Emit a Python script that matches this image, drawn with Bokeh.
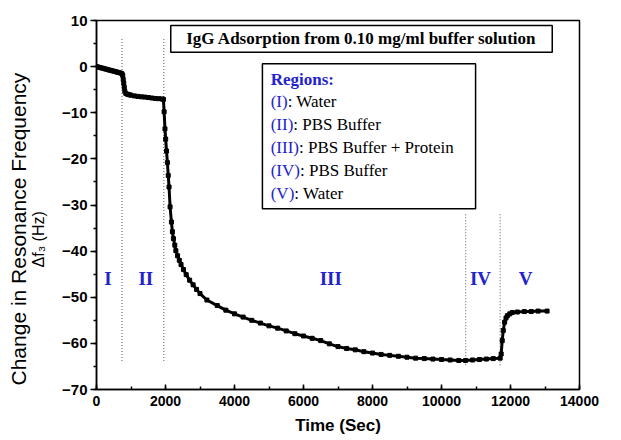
import math
from bokeh.plotting import figure
from bokeh.models import Range1d, SingleIntervalTicker, Title, ColumnDataSource
from bokeh.core.properties import value
from bokeh.embed import file_html
from bokeh.resources import INLINE

# ---- data ----
time_s = [0, 50, 100, 150, 200, 250, 300, 350, 400, 450, 500, 550, 600, 650, 700, 740,
          760, 775, 790, 805, 820, 850, 900, 950, 1000, 1100, 1200, 1300, 1400, 1500,
          1600, 1700, 1800, 1900, 1940,
          1960, 1985, 2005, 2030, 2055, 2080, 2103, 2133, 2172, 2200, 2230, 2270, 2300,
          2350, 2400, 2450, 2520, 2600, 2700, 2800, 2900, 3000, 3200, 3500, 3750, 4000,
          4250, 4500, 4750, 5000, 5250, 5500, 5750, 6000, 6250, 6500, 6750, 7000, 7250,
          7500, 7750, 8000, 8250, 8500, 8750, 9000, 9250, 9500, 9750, 10000, 10250,
          10500, 10700,
          10900, 11100, 11300, 11500, 11700,
          11730, 11760, 11790, 11830, 11870, 11910, 11980, 12050, 12200, 12400, 12600,
          12800, 13060]
freq_hz = [0.0, -0.08, -0.2, -0.3, -0.38, -0.5, -0.58, -0.7, -0.8, -0.88, -1.0, -1.08,
           -1.2, -1.3, -1.4, -1.55,
           -1.9, -2.8, -3.6, -4.5, -5.3, -5.8, -6.0, -6.1, -6.2, -6.35, -6.45, -6.55,
           -6.6, -6.7, -6.8, -6.9, -6.95, -7.0, -7.1,
           -9.8, -13.5, -15.7, -18.3, -20.8, -23.6, -26.1, -30.4, -33.7, -35.8, -37.3,
           -38.7, -39.9, -41.0, -42.0, -42.9, -44.0, -45.1, -46.3, -47.3, -48.3, -49.2,
           -50.6, -51.8, -52.8, -53.6, -54.3, -55.0, -55.6, -56.2, -56.7, -57.3, -57.9,
           -58.4, -58.9, -59.4, -60.1, -60.7, -61.1, -61.4, -61.8, -62.1, -62.4, -62.6,
           -62.8, -63.0, -63.2, -63.3, -63.4, -63.5, -63.6, -63.7, -63.7,
           -63.6, -63.5, -63.4, -63.3, -63.2,
           -62.3, -59.4, -57.2, -55.4, -54.5, -54.0, -53.6, -53.3, -53.2, -53.1, -53.1,
           -53.0, -53.0]

boundary_x = [740, 1950, 10700, 11700]
boundary_top = [6, 6, -32, -32]
boundary_bottom = [-64, -64, -65, -65]

region_names = ["I", "II", "III", "IV", "V"]
region_x = [330, 1430, 6790, 11130, 12440]
region_y = [-46, -46, -46, -46, -46]

title_text = "IgG Adsorption from 0.10 mg/ml buffer solution"
legend_heading = "Regions:"
legend_keys = ["(I)", "(II)", "(III)", "(IV)", "(V)"]
legend_desc = [": Water", ": PBS Buffer", ": PBS Buffer + Protein", ": PBS Buffer", ": Water"]

x_label = "Time (Sec)"
y_label_outer = "Change in Resonance Frequency"
y_label_inner = "\u0394f\u2083 (Hz)"

BLUE = "#2323cc"

p = figure(width=620, height=439, output_backend="svg", toolbar_location=None,
           x_range=Range1d(0, 14000), y_range=Range1d(-70, 10),
           min_border_left=96, min_border_right=41, min_border_top=20,
           min_border_bottom=50)
p.background_fill_color = "white"
p.border_fill_color = "white"
p.outline_line_color = "black"
p.outline_line_width = 1.5
p.xgrid.visible = False
p.ygrid.visible = False

p.xaxis.ticker = SingleIntervalTicker(interval=2000, num_minor_ticks=2)
p.yaxis.ticker = SingleIntervalTicker(interval=10, num_minor_ticks=2)
for ax in (p.xaxis, p.yaxis):
    ax.axis_line_width = 1.5
    ax.major_tick_line_width = 1.5
    ax.minor_tick_line_width = 1.5
    ax.major_label_text_font = "Liberation Sans"
    ax.major_label_text_font_style = "bold"
    ax.major_label_text_font_size = "14px"
    ax.major_label_text_color = "black"
p.yaxis.major_label_text_font_size = "15px"
p.xaxis.major_tick_in = 5
p.xaxis.major_tick_out = 0
p.xaxis.minor_tick_in = 3
p.xaxis.minor_tick_out = 0
p.xaxis.major_label_standoff = 6
p.yaxis.major_tick_in = 0
p.yaxis.major_tick_out = 6
p.yaxis.minor_tick_in = 0
p.yaxis.minor_tick_out = 3
p.yaxis.major_label_standoff = 3

p.xaxis.axis_label = x_label
p.xaxis.axis_label_text_font = "Liberation Sans"
p.xaxis.axis_label_text_font_style = "bold"
p.xaxis.axis_label_text_font_size = "17px"
p.xaxis.axis_label_text_color = "black"
p.xaxis.axis_label_standoff = 7

# y-axis titles (two lines)
p.add_layout(Title(text=y_label_inner, align="left", offset=122, standoff=26,
                   text_font="Liberation Sans", text_font_style="normal",
                   text_font_size="16px", text_color="black"), "left")
p.add_layout(Title(text=y_label_outer, align="left", offset=4, standoff=-30,
                   text_font="Liberation Sans", text_font_style="normal",
                   text_font_size="21px", text_color="black"), "left")

# region boundaries
p.segment(x0=boundary_x, y0=boundary_top, x1=boundary_x, y1=boundary_bottom,
          line_color="#777777", line_width=1.2, line_dash="1 2")

# data
p.line(time_s, freq_hz, line_color="black", line_width=3.0)
p.scatter(time_s, freq_hz, marker="square", size=4, color="black")

# region labels
p.text(x=region_x, y=region_y, text=region_names, text_align="center",
       text_baseline="middle", text_color=BLUE, text_font=value("Liberation Serif"),
       text_font_style="bold", text_font_size=value("19px"))

# title box
p.quad(left=[2152], right=[13210], top=[8.9], bottom=[3.1], fill_color="white",
       line_color="black", line_width=1.5)
p.text(x=[7681], y=[6.0], text=[title_text], text_align="center",
       text_baseline="middle", text_color="black", text_font=value("Liberation Serif"),
       text_font_style="bold", text_font_size=value("17px"))

# legend box
p.quad(left=[4809], right=[10988], top=[0.6], bottom=[-30.8], fill_color="white",
       line_color="black", line_width=1.5)
line_y = [-7.56, -12.6, -17.5, -22.5, -27.4]
key_w = [17.0, 22.6, 28.3, 29.3, 23.6]
p.text(x=[5049], y=[-2.86], text=[legend_heading], text_align="left",
       text_baseline="middle", text_color=BLUE, text_font=value("Liberation Serif"),
       text_font_style="bold", text_font_size=value("17px"))
src_k = ColumnDataSource(dict(x=[5049] * 5, y=line_y, t=legend_keys))
p.text(x="x", y="y", text="t", source=src_k, text_align="left", text_baseline="middle",
       text_color=BLUE, text_font=value("Liberation Serif"), text_font_size=value("17px"))
src_d = ColumnDataSource(dict(x=[5049] * 5, y=line_y, t=legend_desc, off=key_w))
p.text(x="x", y="y", text="t", x_offset="off", source=src_d, text_align="left",
       text_baseline="middle", text_color="black", text_font=value("Liberation Serif"),
       text_font_size=value("17px"))

open("out.html", "w").write(file_html(p, INLINE))
